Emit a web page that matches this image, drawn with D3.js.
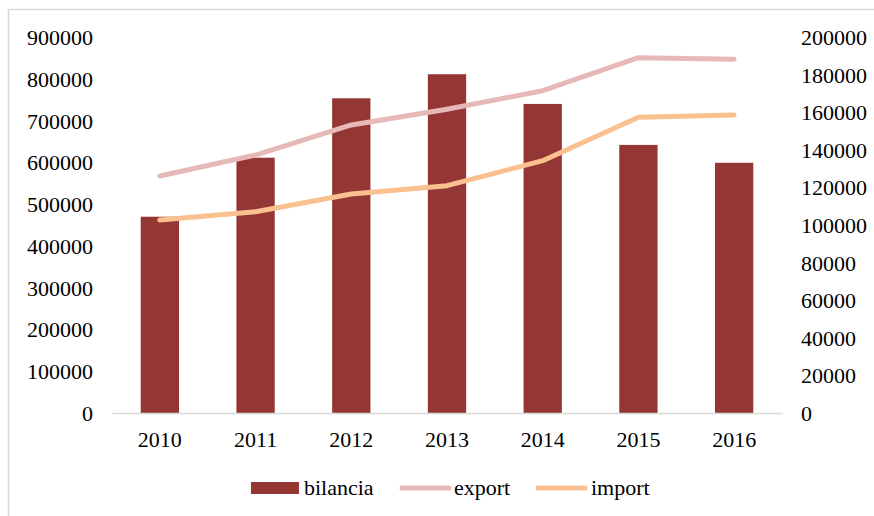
<!DOCTYPE html>
<html>
<head>
<meta charset="utf-8">
<script src="https://cdn.jsdelivr.net/npm/d3@7"></script>
<style>
  html, body { margin: 0; padding: 0; background: #fff; }
  svg { display: block; }
  text { font-family: "Liberation Serif", "Times New Roman", serif; fill: #000; }
</style>
</head>
<body>
<svg id="chart" width="874" height="516"></svg>
<script>
// Trade data by year
const years = ["2010", "2011", "2012", "2013", "2014", "2015", "2016"];
const bilancia = [104400, 135800, 167400, 180200, 164400, 142600, 133100];
const exportVals = [567300, 617500, 689400, 726900, 771500, 850500, 846600];
const importVals = [462000, 481800, 524200, 544100, 604000, 707800, 713300];
const leftTicks = [0, 100000, 200000, 300000, 400000, 500000, 600000, 700000, 800000, 900000];
const rightTicks = [0, 20000, 40000, 60000, 80000, 100000, 120000, 140000, 160000, 180000, 200000];

const colors = { bilancia: "#943634", export: "#E6B9B8", import: "#FAC090" };
const fontSize = "22px";

const svg = d3.select("#chart");
const plot = { left: 112, right: 782, top: 37, bottom: 413 };

// chart frame
svg.append("rect")
  .attr("x", 8.5).attr("y", 9.5)
  .attr("width", 900).attr("height", 600)
  .attr("fill", "none").attr("stroke", "#d9d9d9").attr("stroke-width", 1.5);

const x = d3.scaleBand().domain(years).range([plot.left, plot.right]).paddingInner(0.6).paddingOuter(0.3);
const xc = d => x(d) + x.bandwidth() / 2;
const yL = d3.scaleLinear().domain([0, 900000]).range([plot.bottom, plot.top]);
const yR = d3.scaleLinear().domain([0, 200000]).range([plot.bottom, plot.top]);

// left axis (export / import)
const axL = svg.append("g").attr("transform", `translate(${plot.left - 19},0)`)
  .call(d3.axisLeft(yL).tickValues(leftTicks).tickSize(0).tickPadding(0).tickFormat(d3.format("d")));
axL.select(".domain").remove();
axL.selectAll("text").style("font-size", fontSize).style("font-family", "Liberation Serif").attr("dy", "0.34em");

// right axis (bilancia)
const axR = svg.append("g").attr("transform", `translate(${plot.right + 19},0)`)
  .call(d3.axisRight(yR).tickValues(rightTicks).tickSize(0).tickPadding(0).tickFormat(d3.format("d")));
axR.select(".domain").remove();
axR.selectAll("text").style("font-size", fontSize).style("font-family", "Liberation Serif").attr("dy", "0.34em");

// bars
svg.append("g").selectAll("rect").data(years).join("rect")
  .attr("x", d => x(d))
  .attr("width", x.bandwidth())
  .attr("y", (d, i) => yR(bilancia[i]))
  .attr("height", (d, i) => yR(0) - yR(bilancia[i]))
  .attr("fill", colors.bilancia);

// x axis
const axX = svg.append("g").attr("transform", `translate(0,${plot.bottom})`)
  .call(d3.axisBottom(x).tickSize(0).tickPadding(0));
axX.select(".domain").attr("stroke", "#d9d9d9").attr("stroke-width", 1.5);
axX.selectAll("text").style("font-size", fontSize).style("font-family", "Liberation Serif").attr("y", 34).attr("dy", 0);

// lines
const line = d3.line().x((d, i) => xc(years[i])).y(d => yL(d));
[["export", exportVals], ["import", importVals]].forEach(([k, vals]) => {
  svg.append("path").datum(vals)
    .attr("d", line)
    .attr("fill", "none")
    .attr("stroke", colors[k])
    .attr("stroke-width", 5)
    .attr("stroke-linecap", "round")
    .attr("stroke-linejoin", "round");
});

// legend
const lg = svg.append("g");
lg.append("rect").attr("x", 251).attr("y", 482).attr("width", 48).attr("height", 12).attr("fill", colors.bilancia);
lg.append("text").attr("x", 304).attr("y", 495).style("font-size", fontSize).text("bilancia");
lg.append("line").attr("x1", 402).attr("x2", 449).attr("y1", 488).attr("y2", 488)
  .attr("stroke", colors.export).attr("stroke-width", 5).attr("stroke-linecap", "round");
lg.append("text").attr("x", 454).attr("y", 495).style("font-size", fontSize).text("export");
lg.append("line").attr("x1", 538).attr("x2", 585).attr("y1", 488).attr("y2", 488)
  .attr("stroke", colors.import).attr("stroke-width", 5).attr("stroke-linecap", "round");
lg.append("text").attr("x", 591).attr("y", 495).style("font-size", fontSize).text("import");
</script>
</body>
</html>
